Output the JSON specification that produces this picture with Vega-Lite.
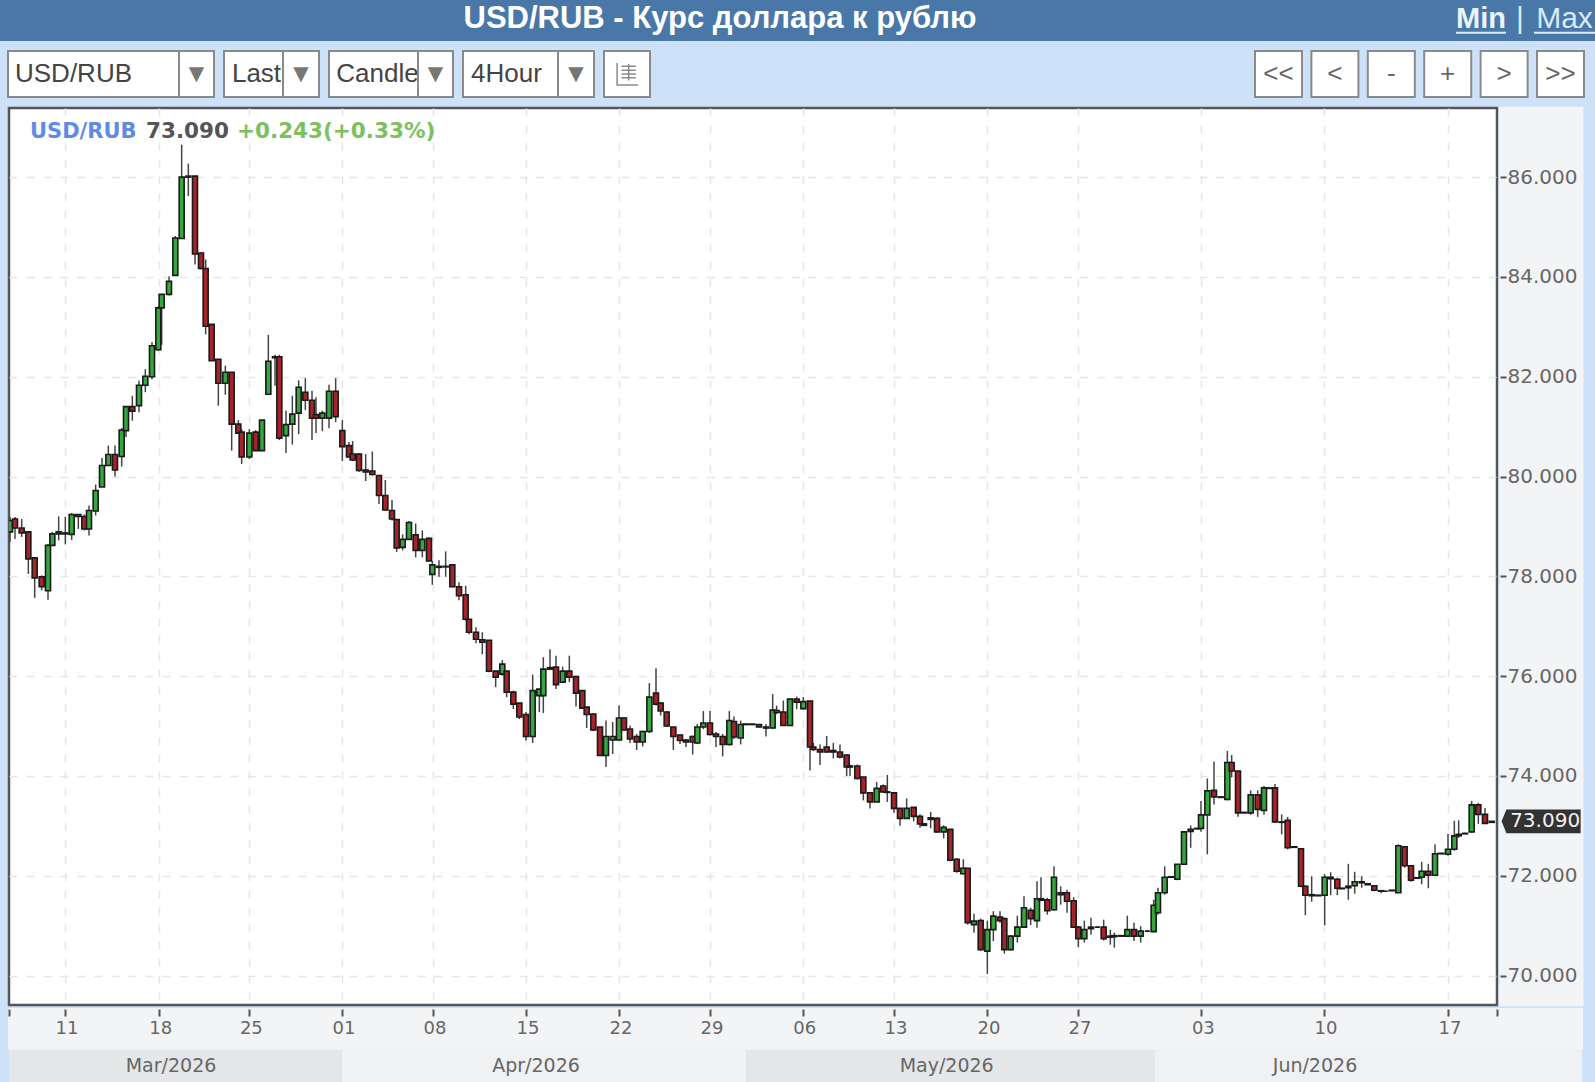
{
"$schema":"https://vega.github.io/schema/vega-lite/v6.json",
"description":"USD/RUB 4-hour candles, Mar-Jun 2026, inside the quote widget's header and toolbar.",
"padding":0,
"background":"#cde2f8",
"config":{"view":{"stroke":null},"text":{"font":"Liberation Sans"}},
"data":{"values":[{}]},
"datasets":{
"x_ticks":[{"t":9.75,"label":"11"},{"t":23.8,"label":"18"},{"t":37.4,"label":"25"},{"t":51.3,"label":"01"},{"t":64.95,"label":"08"},{"t":78.9,"label":"15"},{"t":92.85,"label":"22"},{"t":106.5,"label":"29"},{"t":120.4,"label":"06"},{"t":134.1,"label":"13"},{"t":148.05,"label":"20"},{"t":161.7,"label":"27"},{"t":180.2,"label":"03"},{"t":198.6,"label":"10"},{"t":217.2,"label":"17"}],
"months":[{"month":"Mar/2026","start":1.35,"end":51.3,"mid":25.65},{"month":"Apr/2026","start":51.3,"end":111.9,"mid":80.4},{"month":"May/2026","start":111.9,"end":173.25,"mid":142},{"month":"Jun/2026","start":173.25,"end":237.3,"mid":197.25}],
"candles":[
{"t":1.5,"o":78.89,"h":79.19,"l":78.69,"c":79.12},{"t":2.25,"o":79.15,"h":79.19,"l":78.75,"c":78.97},{"t":3.25,"o":78.97,"h":79.15,"l":78.79,"c":78.87},{"t":4.25,"o":78.89,"h":78.89,"l":78.05,"c":78.35},{"t":5.2,"o":78.37,"h":78.37,"l":77.57,"c":77.97},{"t":6.25,"o":77.99,"h":78.02,"l":77.72,"c":77.79},{"t":7.2,"o":77.71,"h":78.65,"l":77.53,"c":78.62},{"t":7.85,"o":78.62,"h":78.89,"l":78.62,"c":78.85},{"t":8.8,"o":78.85,"h":79.2,"l":78.72,"c":78.89},{"t":9.8,"o":78.87,"h":79.19,"l":78.64,"c":78.85},
{"t":10.75,"o":78.84,"h":79.27,"l":78.73,"c":79.24},{"t":11.75,"o":79.24,"h":79.24,"l":78.95,"c":79.2},{"t":12.65,"o":79.2,"h":79.24,"l":78.92,"c":78.95},{"t":13.35,"o":78.95,"h":79.42,"l":78.82,"c":79.32},{"t":14.35,"o":79.31,"h":79.84,"l":79.22,"c":79.72},{"t":15.3,"o":79.79,"h":80.37,"l":79.79,"c":80.22},{"t":16.25,"o":80.22,"h":80.62,"l":80.22,"c":80.44},{"t":17.25,"o":80.44,"h":80.62,"l":80.0,"c":80.13},{"t":18.25,"o":80.4,"h":80.97,"l":80.2,"c":80.93},{"t":18.9,"o":80.92,"h":81.4,"l":80.79,"c":81.4},
{"t":19.85,"o":81.4,"h":81.62,"l":81.12,"c":81.31},{"t":20.85,"o":81.42,"h":81.92,"l":81.29,"c":81.83},{"t":21.8,"o":81.83,"h":82.15,"l":81.69,"c":82.01},{"t":22.8,"o":82.0,"h":82.69,"l":81.95,"c":82.62},{"t":23.75,"o":82.54,"h":83.41,"l":82.52,"c":83.38},{"t":24.25,"o":83.38,"h":83.66,"l":82.64,"c":83.65},{"t":25.35,"o":83.65,"h":84.01,"l":83.63,"c":83.91},{"t":26.3,"o":84.03,"h":84.82,"l":84.03,"c":84.78},{"t":27.25,"o":84.77,"h":86.65,"l":84.77,"c":86.0},{"t":28.25,"o":86.0,"h":86.27,"l":85.62,"c":86.02},
{"t":29.25,"o":86.02,"h":86.02,"l":84.25,"c":84.46},{"t":30.15,"o":84.48,"h":84.5,"l":84.15,"c":84.17},{"t":30.85,"o":84.17,"h":84.35,"l":82.85,"c":83.01},{"t":31.75,"o":83.05,"h":83.05,"l":82.32,"c":82.32},{"t":32.75,"o":82.35,"h":82.35,"l":81.42,"c":81.87},{"t":33.8,"o":81.87,"h":82.22,"l":81.64,"c":82.09},{"t":34.75,"o":82.09,"h":82.09,"l":80.52,"c":81.05},{"t":35.75,"o":81.05,"h":81.13,"l":80.87,"c":80.87},{"t":36.25,"o":80.89,"h":80.95,"l":80.25,"c":80.39},{"t":37.4,"o":80.39,"h":80.95,"l":80.35,"c":80.87},
{"t":38.35,"o":80.89,"h":80.93,"l":80.52,"c":80.52},{"t":39.3,"o":80.52,"h":81.13,"l":80.52,"c":81.13},{"t":40.25,"o":81.65,"h":82.84,"l":81.65,"c":82.31},{"t":41.25,"o":82.38,"h":82.44,"l":81.82,"c":82.4},{"t":41.9,"o":82.4,"h":82.44,"l":80.73,"c":80.77},{"t":42.9,"o":80.82,"h":81.32,"l":80.47,"c":81.04},{"t":43.85,"o":81.05,"h":81.62,"l":80.64,"c":81.25},{"t":44.8,"o":81.27,"h":81.93,"l":80.85,"c":81.79},{"t":45.8,"o":81.69,"h":81.97,"l":81.33,"c":81.53},{"t":46.8,"o":81.53,"h":81.72,"l":80.73,"c":81.17},
{"t":47.4,"o":81.24,"h":81.59,"l":80.87,"c":81.17},{"t":48.35,"o":81.17,"h":81.32,"l":80.91,"c":81.27},{"t":49.35,"o":81.17,"h":81.84,"l":80.97,"c":81.71},{"t":50.35,"o":81.71,"h":81.97,"l":81.09,"c":81.2},{"t":51.35,"o":80.92,"h":81.13,"l":80.31,"c":80.6},{"t":52.35,"o":80.62,"h":80.69,"l":80.37,"c":80.39},{"t":52.9,"o":80.45,"h":80.71,"l":80.31,"c":80.33},{"t":53.85,"o":80.45,"h":80.47,"l":80.09,"c":80.12},{"t":54.85,"o":80.13,"h":80.45,"l":79.91,"c":80.09},{"t":55.85,"o":80.11,"h":80.5,"l":80.02,"c":80.04},
{"t":56.85,"o":80.02,"h":80.02,"l":79.45,"c":79.62},{"t":57.8,"o":79.62,"h":79.93,"l":79.31,"c":79.33},{"t":58.8,"o":79.32,"h":79.53,"l":79.12,"c":79.15},{"t":59.5,"o":79.14,"h":79.14,"l":78.49,"c":78.57},{"t":60.4,"o":78.58,"h":78.84,"l":78.52,"c":78.74},{"t":61.35,"o":78.74,"h":79.11,"l":78.74,"c":79.08},{"t":62.35,"o":78.83,"h":79.06,"l":78.38,"c":78.52},{"t":63.35,"o":78.52,"h":78.92,"l":78.38,"c":78.74},{"t":64.35,"o":78.76,"h":78.78,"l":78.31,"c":78.31},{"t":64.85,"o":78.04,"h":78.31,"l":77.83,"c":78.23},
{"t":65.85,"o":78.2,"h":78.32,"l":77.99,"c":78.18},{"t":66.85,"o":78.19,"h":78.5,"l":77.99,"c":78.2},{"t":67.85,"o":78.23,"h":78.23,"l":77.78,"c":77.79},{"t":68.85,"o":77.79,"h":77.88,"l":77.52,"c":77.61},{"t":69.85,"o":77.63,"h":77.81,"l":77.11,"c":77.14},{"t":70.35,"o":77.14,"h":77.14,"l":76.84,"c":76.88},{"t":71.4,"o":76.88,"h":76.98,"l":76.66,"c":76.74},{"t":72.35,"o":76.73,"h":76.88,"l":76.44,"c":76.68},{"t":73.35,"o":76.72,"h":76.72,"l":76.08,"c":76.1},{"t":74.35,"o":76.1,"h":76.11,"l":75.78,"c":75.98},
{"t":75.35,"o":76.04,"h":76.32,"l":76.01,"c":76.24},{"t":76,"o":76.1,"h":76.1,"l":75.58,"c":75.68},{"t":77,"o":75.68,"h":75.71,"l":75.34,"c":75.44},{"t":77.9,"o":75.46,"h":75.46,"l":75.14,"c":75.18},{"t":78.9,"o":75.23,"h":75.28,"l":74.71,"c":74.79},{"t":79.9,"o":74.79,"h":76.03,"l":74.66,"c":75.71},{"t":80.9,"o":75.61,"h":75.74,"l":75.28,"c":75.74},{"t":81.5,"o":75.61,"h":76.38,"l":75.26,"c":76.14},{"t":82.5,"o":76.14,"h":76.54,"l":76.14,"c":76.17},{"t":83.4,"o":76.18,"h":76.41,"l":75.74,"c":75.83},
{"t":84.4,"o":75.88,"h":76.19,"l":75.88,"c":76.1},{"t":85.4,"o":76.1,"h":76.41,"l":75.88,"c":75.98},{"t":86.4,"o":75.99,"h":76.01,"l":75.39,"c":75.66},{"t":87.35,"o":75.71,"h":75.72,"l":75.34,"c":75.36},{"t":88,"o":75.38,"h":75.39,"l":74.96,"c":75.23},{"t":89,"o":75.24,"h":75.26,"l":74.9,"c":74.92},{"t":90,"o":74.98,"h":74.98,"l":74.41,"c":74.41},{"t":90.9,"o":74.41,"h":75.11,"l":74.18,"c":74.79},{"t":91.9,"o":74.72,"h":75.08,"l":74.44,"c":74.79},{"t":92.85,"o":74.72,"h":75.41,"l":74.71,"c":75.16},
{"t":93.6,"o":75.16,"h":75.18,"l":74.91,"c":74.92},{"t":94.5,"o":74.94,"h":75.01,"l":74.66,"c":74.74},{"t":95.5,"o":74.79,"h":74.84,"l":74.52,"c":74.68},{"t":96.4,"o":74.68,"h":74.91,"l":74.59,"c":74.89},{"t":97.4,"o":74.89,"h":75.86,"l":74.86,"c":75.58},{"t":98.4,"o":75.66,"h":76.16,"l":75.41,"c":75.44},{"t":99.1,"o":75.46,"h":75.48,"l":75.21,"c":75.3},{"t":100,"o":75.28,"h":75.3,"l":74.98,"c":75.0},{"t":101,"o":74.98,"h":74.98,"l":74.52,"c":74.79},{"t":102,"o":74.82,"h":74.84,"l":74.64,"c":74.71},
{"t":102.9,"o":74.72,"h":74.74,"l":74.58,"c":74.68},{"t":103.9,"o":74.79,"h":74.81,"l":74.43,"c":74.68},{"t":104.6,"o":74.66,"h":75.04,"l":74.64,"c":74.98},{"t":105.5,"o":74.98,"h":75.3,"l":74.94,"c":75.06},{"t":106.5,"o":75.06,"h":75.3,"l":74.81,"c":74.83},{"t":107.4,"o":74.84,"h":74.88,"l":74.58,"c":74.79},{"t":108.4,"o":74.79,"h":74.84,"l":74.39,"c":74.63},{"t":109.4,"o":74.63,"h":75.3,"l":74.61,"c":75.11},{"t":110.1,"o":75.09,"h":75.19,"l":74.74,"c":74.78},{"t":111.1,"o":74.76,"h":75.11,"l":74.63,"c":75.03},
{"t":111.85,"o":75.03,"h":75.05,"l":75.03,"c":75.04},{"t":112.85,"o":75.04,"h":75.05,"l":75.02,"c":75.03},{"t":113.85,"o":75.03,"h":75.04,"l":74.97,"c":74.98},{"t":114.9,"o":74.98,"h":75.04,"l":74.79,"c":74.96},{"t":115.9,"o":74.96,"h":75.64,"l":74.94,"c":75.32},{"t":116.5,"o":75.27,"h":75.41,"l":75.24,"c":75.31},{"t":117.5,"o":75.28,"h":75.51,"l":75.01,"c":75.01},{"t":118.5,"o":75.01,"h":75.54,"l":75.01,"c":75.54},{"t":119.5,"o":75.54,"h":75.59,"l":75.34,"c":75.48},{"t":120.5,"o":75.35,"h":75.58,"l":75.33,"c":75.49},
{"t":121.5,"o":75.5,"h":75.5,"l":74.11,"c":74.58},{"t":122,"o":74.58,"h":74.66,"l":74.5,"c":74.53},{"t":123,"o":74.53,"h":74.63,"l":74.22,"c":74.48},{"t":124,"o":74.58,"h":74.8,"l":74.46,"c":74.48},{"t":125,"o":74.51,"h":74.66,"l":74.35,"c":74.48},{"t":126,"o":74.48,"h":74.63,"l":74.35,"c":74.38},{"t":127,"o":74.42,"h":74.44,"l":74.0,"c":74.18},{"t":127.5,"o":74.2,"h":74.23,"l":74.0,"c":74.18},{"t":128.6,"o":74.2,"h":74.23,"l":73.93,"c":73.95},{"t":129.5,"o":73.98,"h":73.98,"l":73.51,"c":73.66},
{"t":130.5,"o":73.66,"h":73.66,"l":73.35,"c":73.48},{"t":131.5,"o":73.48,"h":73.88,"l":73.48,"c":73.75},{"t":132.5,"o":73.8,"h":73.83,"l":73.66,"c":73.68},{"t":133.1,"o":73.68,"h":74.02,"l":73.48,"c":73.67},{"t":134.1,"o":73.66,"h":73.66,"l":73.26,"c":73.35},{"t":135,"o":73.35,"h":73.36,"l":73.0,"c":73.15},{"t":136,"o":73.15,"h":73.55,"l":73.15,"c":73.35},{"t":137.05,"o":73.37,"h":73.37,"l":73.09,"c":73.19},{"t":138,"o":73.19,"h":73.23,"l":72.96,"c":73.04},{"t":138.6,"o":73.04,"h":73.04,"l":73.01,"c":73.01},
{"t":139.6,"o":73.16,"h":73.28,"l":72.95,"c":73.13},{"t":140.55,"o":73.15,"h":73.17,"l":72.86,"c":72.88},{"t":141.55,"o":72.88,"h":73.01,"l":72.75,"c":72.97},{"t":142.55,"o":72.93,"h":72.93,"l":72.29,"c":72.31},{"t":143.5,"o":72.33,"h":72.35,"l":72.06,"c":72.09},{"t":144.5,"o":72.04,"h":72.33,"l":72.03,"c":72.15},{"t":145.15,"o":72.15,"h":72.15,"l":71.02,"c":71.06},{"t":146.1,"o":71.02,"h":71.24,"l":70.86,"c":71.09},{"t":147.1,"o":71.1,"h":71.14,"l":70.5,"c":70.52},{"t":148.1,"o":70.49,"h":71.1,"l":70.03,"c":70.92},
{"t":149,"o":70.92,"h":71.29,"l":70.69,"c":71.19},{"t":150,"o":71.17,"h":71.29,"l":71.06,"c":71.1},{"t":150.65,"o":71.14,"h":71.16,"l":70.44,"c":70.52},{"t":151.6,"o":70.52,"h":70.81,"l":70.5,"c":70.79},{"t":152.6,"o":70.79,"h":71.2,"l":70.66,"c":70.97},{"t":153.6,"o":70.97,"h":71.59,"l":70.96,"c":71.36},{"t":154.6,"o":71.31,"h":71.36,"l":71.01,"c":71.14},{"t":155.55,"o":71.1,"h":71.89,"l":70.96,"c":71.54},{"t":156.15,"o":71.54,"h":71.97,"l":71.49,"c":71.51},{"t":157.1,"o":71.52,"h":71.56,"l":71.22,"c":71.3},
{"t":158.1,"o":71.32,"h":72.19,"l":71.3,"c":71.97},{"t":159.1,"o":71.66,"h":71.79,"l":71.42,"c":71.62},{"t":160.05,"o":71.66,"h":71.72,"l":71.26,"c":71.49},{"t":161.05,"o":71.5,"h":71.57,"l":70.96,"c":70.97},{"t":161.75,"o":70.97,"h":70.99,"l":70.57,"c":70.74},{"t":162.65,"o":70.74,"h":71.1,"l":70.66,"c":70.92},{"t":163.65,"o":70.94,"h":71.16,"l":70.82,"c":70.97},{"t":164.6,"o":70.97,"h":70.98,"l":70.96,"c":70.97},{"t":165.55,"o":70.97,"h":71.12,"l":70.7,"c":70.74},{"t":166.55,"o":70.79,"h":70.92,"l":70.62,"c":70.77},
{"t":167.15,"o":70.8,"h":70.86,"l":70.56,"c":70.78},{"t":168.15,"o":70.8,"h":70.81,"l":70.79,"c":70.79},{"t":169.1,"o":70.79,"h":71.2,"l":70.77,"c":70.92},{"t":170.1,"o":70.92,"h":71.06,"l":70.69,"c":70.79},{"t":171.1,"o":70.79,"h":70.99,"l":70.66,"c":70.89},{"t":172.1,"o":70.89,"h":70.9,"l":70.88,"c":70.89},{"t":173.05,"o":70.88,"h":71.52,"l":70.88,"c":71.41},{"t":173.7,"o":71.26,"h":71.76,"l":71.22,"c":71.66},{"t":174.7,"o":71.66,"h":72.19,"l":71.62,"c":71.97},{"t":175.7,"o":71.97,"h":71.98,"l":71.96,"c":71.98},
{"t":176.6,"o":71.93,"h":72.23,"l":71.91,"c":72.23},{"t":177.6,"o":72.23,"h":72.89,"l":72.23,"c":72.88},{"t":178.6,"o":72.89,"h":73.01,"l":72.56,"c":72.93},{"t":179.6,"o":72.94,"h":72.95,"l":72.93,"c":72.95},{"t":180.15,"o":72.95,"h":73.5,"l":72.88,"c":73.22},{"t":181.1,"o":73.22,"h":73.95,"l":72.43,"c":73.7},{"t":182.1,"o":73.71,"h":74.29,"l":73.43,"c":73.58},{"t":183.1,"o":73.58,"h":73.59,"l":73.56,"c":73.57},{"t":184.1,"o":73.53,"h":74.5,"l":73.51,"c":74.27},{"t":184.75,"o":74.27,"h":74.42,"l":73.97,"c":74.1},
{"t":185.7,"o":74.1,"h":74.1,"l":73.18,"c":73.26},{"t":186.65,"o":73.27,"h":73.28,"l":73.25,"c":73.26},{"t":187.6,"o":73.26,"h":73.71,"l":73.22,"c":73.62},{"t":188.65,"o":73.62,"h":73.71,"l":73.18,"c":73.33},{"t":189.6,"o":73.31,"h":73.8,"l":73.22,"c":73.76},{"t":190.35,"o":73.76,"h":73.77,"l":73.74,"c":73.75},{"t":191.25,"o":73.76,"h":73.84,"l":73.06,"c":73.08},{"t":192.25,"o":73.08,"h":73.23,"l":72.83,"c":73.07},{"t":193.15,"o":73.11,"h":73.18,"l":72.53,"c":72.56},{"t":194.15,"o":72.58,"h":72.58,"l":72.56,"c":72.57},
{"t":195.15,"o":72.54,"h":72.54,"l":71.77,"c":71.79},{"t":195.8,"o":71.79,"h":71.81,"l":71.21,"c":71.61},{"t":196.75,"o":71.62,"h":71.99,"l":71.48,"c":71.6},{"t":197.75,"o":71.61,"h":71.62,"l":71.59,"c":71.6},{"t":198.7,"o":71.61,"h":72.03,"l":71.01,"c":71.97},{"t":199.6,"o":71.97,"h":72.07,"l":71.61,"c":71.94},{"t":200.6,"o":71.93,"h":71.96,"l":71.61,"c":71.75},{"t":201.25,"o":71.75,"h":71.76,"l":71.74,"c":71.74},{"t":202.25,"o":71.79,"h":72.24,"l":71.52,"c":71.76},{"t":203.2,"o":71.8,"h":72.08,"l":71.64,"c":71.88},
{"t":204.25,"o":71.88,"h":71.99,"l":71.76,"c":71.86},{"t":205.15,"o":71.84,"h":71.84,"l":71.82,"c":71.82},{"t":206.15,"o":71.8,"h":71.81,"l":71.69,"c":71.71},{"t":207.15,"o":71.7,"h":71.71,"l":71.65,"c":71.69},{"t":207.8,"o":71.69,"h":71.7,"l":71.68,"c":71.69},{"t":208.75,"o":71.71,"h":71.71,"l":71.7,"c":71.7},{"t":209.75,"o":71.66,"h":72.63,"l":71.66,"c":72.6},{"t":210.7,"o":72.58,"h":72.59,"l":72.16,"c":72.2},{"t":211.65,"o":72.2,"h":72.21,"l":71.88,"c":71.91},{"t":212.6,"o":71.96,"h":71.97,"l":71.94,"c":71.95},
{"t":213.25,"o":71.97,"h":72.28,"l":71.83,"c":72.09},{"t":214.25,"o":72.09,"h":72.24,"l":71.75,"c":72.01},{"t":215.25,"o":72.01,"h":72.63,"l":71.99,"c":72.44},{"t":216.2,"o":72.44,"h":72.45,"l":72.44,"c":72.45},{"t":217.2,"o":72.43,"h":72.84,"l":72.4,"c":72.53},{"t":218.15,"o":72.53,"h":73.1,"l":72.5,"c":72.8},{"t":218.8,"o":72.8,"h":73.11,"l":72.76,"c":72.83},{"t":219.75,"o":72.84,"h":72.86,"l":72.84,"c":72.85},{"t":220.75,"o":72.88,"h":73.5,"l":72.86,"c":73.42},{"t":221.75,"o":73.42,"h":73.46,"l":73.04,"c":73.23},
{"t":222.75,"o":73.23,"h":73.36,"l":73.05,"c":73.05},{"t":223.75,"o":73.07,"h":73.1,"l":73.06,"c":73.09}
]},
"vconcat":[
{"hconcat":[
{"width":1440,"height":41,"view":{"fill":"#4978a8"},"mark":{"type":"text","text":"USD/RUB - Курс доллара к рублю","fontSize":31,"fontWeight":"bold","color":"#ffffff","dy":-2},"encoding":{}},
{"width":16,"height":41,"view":{"fill":"#4978a8"},"mark":{"type":"text","text":"","fontSize":1},"encoding":{}},
{"width":50,"height":41,"view":{"fill":"#4978a8"},"layer":[
{"mark":{"type":"text","text":"Min","fontSize":29,"fontWeight":"bold","color":"#eaf4fd","dy":-2},"encoding":{}},
{"mark":{"type":"rule","color":"#d8ebfb","strokeWidth":2},"encoding":{"y":{"datum":0.2,"type":"quantitative","scale":{"domain":[0,1]},"axis":null}}}
]},
{"width":28,"height":41,"view":{"fill":"#4978a8"},"mark":{"type":"text","text":"|","fontSize":30,"color":"#d8ebfb","dy":-2},"encoding":{}},
{"width":61,"height":41,"view":{"fill":"#4978a8"},"layer":[
{"mark":{"type":"text","text":"Max","fontSize":30,"color":"#d8ebfb","dy":-2},"encoding":{}},
{"mark":{"type":"rule","color":"#d8ebfb","strokeWidth":2},"encoding":{"y":{"datum":0.2,"type":"quantitative","scale":{"domain":[0,1]},"axis":null}}}
]}
],"spacing":0,"bounds":"flush"},
{"width":1595,"height":9,"mark":{"type":"text","text":"","fontSize":1},"encoding":{}},
{"hconcat":[
{"width":7,"height":46,"mark":{"type":"text","text":"","fontSize":1},"encoding":{}},
{"hconcat":[
{"hconcat":[
{"width":171,"height":46,"view":{"fill":"white","stroke":"#8a8a8a","strokeWidth":2},"mark":{"type":"text","text":"USD/RUB","fontSize":26,"color":"#444444","dx":-20},"encoding":{}},
{"width":35,"height":46,"view":{"fill":"white","stroke":"#8a8a8a","strokeWidth":2},"mark":{"type":"text","text":"▼","font":"DejaVu Sans","fontSize":20,"color":"#777777"},"encoding":{}}
],"spacing":0,"bounds":"flush"},
{"hconcat":[
{"width":59,"height":46,"view":{"fill":"white","stroke":"#8a8a8a","strokeWidth":2},"mark":{"type":"text","text":"Last","fontSize":26,"color":"#444444","dx":3},"encoding":{}},
{"width":36,"height":46,"view":{"fill":"white","stroke":"#8a8a8a","strokeWidth":2},"mark":{"type":"text","text":"▼","font":"DejaVu Sans","fontSize":20,"color":"#777777"},"encoding":{}}
],"spacing":0,"bounds":"flush"},
{"hconcat":[
{"width":89,"height":46,"view":{"fill":"white","stroke":"#8a8a8a","strokeWidth":2},"mark":{"type":"text","text":"Candle","fontSize":26,"color":"#444444","dx":4},"encoding":{}},
{"width":35,"height":46,"view":{"fill":"white","stroke":"#8a8a8a","strokeWidth":2},"mark":{"type":"text","text":"▼","font":"DejaVu Sans","fontSize":20,"color":"#777777"},"encoding":{}}
],"spacing":0,"bounds":"flush"},
{"hconcat":[
{"width":95,"height":46,"view":{"fill":"white","stroke":"#8a8a8a","strokeWidth":2},"mark":{"type":"text","text":"4Hour","fontSize":26,"color":"#444444","dx":-4},"encoding":{}},
{"width":36,"height":46,"view":{"fill":"white","stroke":"#8a8a8a","strokeWidth":2},"mark":{"type":"text","text":"▼","font":"DejaVu Sans","fontSize":20,"color":"#777777"},"encoding":{}}
],"spacing":0,"bounds":"flush"},
{"width":46,"height":46,"view":{"fill":"white","stroke":"#8a8a8a","strokeWidth":2},"mark":{"type":"point","shape":"M-0.9,-1 L-0.9,1 L1,1 M-0.5,-0.7 L0.8,-0.7 M-0.5,-0.35 L0.8,-0.35 M-0.5,0 L0.8,0 M-0.5,0.35 L0.8,0.35 M0.15,-0.9 L0.15,0.6","size":484,"stroke":"#8a8a8a","strokeWidth":1.5,"fill":null,"opacity":1},"encoding":{}}
],"spacing":8},
{"width":603,"height":46,"mark":{"type":"text","text":"","fontSize":1},"encoding":{}},
{"hconcat":[
{"width":47,"height":46,"view":{"fill":"white","stroke":"#8a8a8a","strokeWidth":2},"mark":{"type":"text","text":"<<","fontSize":26,"color":"#666666"},"encoding":{}},
{"width":47,"height":46,"view":{"fill":"white","stroke":"#8a8a8a","strokeWidth":2},"mark":{"type":"text","text":"<","fontSize":26,"color":"#666666"},"encoding":{}},
{"width":47,"height":46,"view":{"fill":"white","stroke":"#8a8a8a","strokeWidth":2},"mark":{"type":"text","text":"-","fontSize":26,"color":"#666666"},"encoding":{}},
{"width":47,"height":46,"view":{"fill":"white","stroke":"#8a8a8a","strokeWidth":2},"mark":{"type":"text","text":"+","fontSize":26,"color":"#666666"},"encoding":{}},
{"width":47,"height":46,"view":{"fill":"white","stroke":"#8a8a8a","strokeWidth":2},"mark":{"type":"text","text":">","fontSize":26,"color":"#666666"},"encoding":{}},
{"width":47,"height":46,"view":{"fill":"white","stroke":"#8a8a8a","strokeWidth":2},"mark":{"type":"text","text":">>","fontSize":26,"color":"#666666"},"encoding":{}}
],"spacing":9.4,"bounds":"flush"}
],"spacing":0},
{"width":1595,"height":7.75,"mark":{"type":"text","text":"","fontSize":1},"encoding":{}},
{"hconcat":[
{"width":9,"height":897,"mark":{"type":"text","text":"","fontSize":1},"encoding":{}},
{"width":1488,"height":897,"view":{"fill":"white","stroke":"#555555","strokeWidth":2.5},
"layer":[
{"data":{"name":"candles"},"mark":{"type":"rule","color":"#444444","strokeWidth":1.5,"clip":true},"encoding":{
"x":{"field":"t","type":"quantitative","scale":{"domain":[1.35,224.55],"nice":false,"zero":false,"padding":0},"axis":{"values":[9.75,23.8,37.4,51.3,64.95,78.9,92.85,106.5,120.4,134.1,148.05,161.7,180.2,198.6,217.2],"labels":false,"ticks":false,"domain":false,"title":null,"grid":true,"gridColor":"#e6e6e6","gridDash":[8,9],"gridWidth":1.5}},
"y":{"field":"l","type":"quantitative","scale":{"domain":[69.41,87.385],"nice":false,"zero":false},"axis":{"values":[70,72,74,76,78,80,82,84,86],"labels":false,"ticks":false,"domain":false,"title":null,"grid":true,"gridColor":"#e6e6e6","gridDash":[8,9],"gridWidth":1.5}},
"y2":{"field":"h"}}},
{"data":{"name":"candles"},"mark":{"type":"bar","width":5,"stroke":"#1a1a1a","strokeWidth":1.6,"clip":true},"encoding":{
"x":{"field":"t","type":"quantitative"},
"y":{"field":"o","type":"quantitative"},
"y2":{"field":"c"},
"fill":{"condition":{"test":"datum.c >= datum.o","value":"#34a83f"},"value":"#a5242c"}}},
{"data":{"values":[{"t":4.5,"price":86.9,"text":"USD/RUB"}]},"mark":{"type":"text","align":"left","font":"DejaVu Sans","fontSize":21,"fontWeight":"bold","color":"#5f8ae6"},"encoding":{"x":{"field":"t","type":"quantitative"},"y":{"field":"price","type":"quantitative"},"text":{"field":"text"}}},
{"data":{"values":[{"t":21.9,"price":86.9,"text":"73.090"}]},"mark":{"type":"text","align":"left","font":"DejaVu Sans","fontSize":21.5,"fontWeight":"bold","color":"#555555"},"encoding":{"x":{"field":"t","type":"quantitative"},"y":{"field":"price","type":"quantitative"},"text":{"field":"text"}}},
{"data":{"values":[{"t":35.55,"price":86.9,"text":"+0.243(+0.33%)"}]},"mark":{"type":"text","align":"left","font":"DejaVu Sans","fontSize":21.5,"fontWeight":"bold","color":"#7cc060"},"encoding":{"x":{"field":"t","type":"quantitative"},"y":{"field":"price","type":"quantitative"},"text":{"field":"text"}}}
]},
{"width":2.5,"height":897,"mark":{"type":"text","text":"","fontSize":1},"encoding":{}},
{"width":82.25,"height":897,"view":{"fill":"#f3f4f6","stroke":"#f3f4f6","strokeWidth":2.5},"data":{"values":[{"price":73.09,"text":"73.090"}]},
"layer":[
{"mark":{"type":"point","shape":"M-1,0 L-0.88,-0.3 L1,-0.3 L1,0.3 L-0.88,0.3 Z","size":6241,"fill":"#333333","stroke":null,"opacity":1},"encoding":{
"y":{"field":"price","type":"quantitative","scale":{"domain":[69.41,87.385],"nice":false,"zero":false},"axis":{"orient":"right","offset":-82.25,"values":[70,72,74,76,78,80,82,84,86],"format":".3f","title":null,"domain":false,"grid":false,"tickColor":"#555555","tickSize":6,"tickWidth":2,"labelFont":"DejaVu Sans","labelFontSize":20,"labelColor":"#666666","labelPadding":1}}}},
{"mark":{"type":"text","font":"DejaVu Sans","fontSize":20,"color":"#f2f2f2","dx":4},"encoding":{"y":{"field":"price","type":"quantitative"},"text":{"field":"text"}}}
]}
],"spacing":0,"bounds":"flush"},
{"hconcat":[
{"width":9,"height":39.75,"mark":{"type":"text","text":"","fontSize":1},"encoding":{}},
{"width":1573,"height":39.75,"view":{"fill":"#f3f4f6","stroke":"#f3f4f6","strokeWidth":2},"data":{"name":"x_ticks"},"mark":{"type":"text","font":"DejaVu Sans","fontSize":18,"color":"#666666","dx":2,"dy":0},"encoding":{
"x":{"field":"t","type":"quantitative","scale":{"domain":[1.35,237.3],"nice":false,"zero":false},"axis":{"orient":"bottom","offset":-39.75,"values":[1.35,9.75,23.8,37.4,51.3,64.95,78.9,92.85,106.5,120.4,134.1,148.05,161.7,180.2,198.6,217.2,224.55],"labels":false,"title":null,"domain":false,"grid":false,"tickColor":"#555555","tickSize":7,"tickWidth":2}},
"text":{"field":"label"}}}
],"spacing":0,"bounds":"flush"},
{"hconcat":[
{"width":9,"height":36,"mark":{"type":"text","text":"","fontSize":1},"encoding":{}},
{"width":1574,"height":36,"data":{"name":"months"},"layer":[
{"mark":{"type":"rect"},"encoding":{
"x":{"field":"start","type":"quantitative","scale":{"domain":[1.35,237.45],"nice":false,"zero":false},"axis":null},
"x2":{"field":"end"},
"color":{"field":"month","type":"nominal","scale":{"domain":["Mar/2026","Apr/2026","May/2026","Jun/2026"],"range":["#e5e6e7","#f0f1f2","#e5e6e7","#f0f1f2"]},"legend":null}}},
{"mark":{"type":"text","font":"DejaVu Sans","fontSize":19,"color":"#666666","dy":-2},"encoding":{
"x":{"field":"mid","type":"quantitative"},
"text":{"field":"month"}}}
]}
],"spacing":0,"bounds":"flush"}
],
"spacing":0
}
